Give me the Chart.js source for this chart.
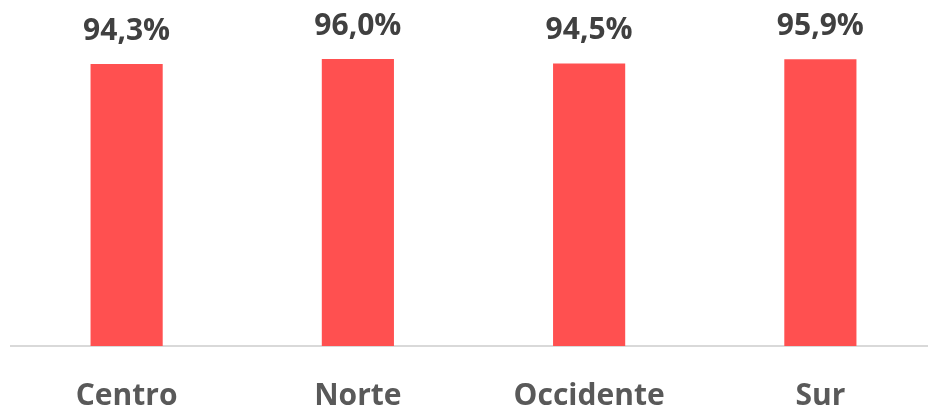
<!DOCTYPE html>
<html>
<head>
<meta charset="utf-8">
<script src="https://cdn.jsdelivr.net/npm/chart.js@4/dist/chart.umd.min.js"></script>
<style>
    html, body { margin: 0; padding: 0; background: #fff; overflow: hidden; }
    #wrap { width: 936px; height: 405px; }
</style>
</head>
<body>
<div id="wrap"><canvas id="barChart"></canvas></div>
<script>
// dati
const regioni = ["Centro", "Norte", "Occidente", "Sur"];
const valori = [94.3, 96.0, 94.5, 95.9];

// etichette sopra le barre
const etichettePlugin = {
    id: "etichette",
    afterDatasetsDraw(chart) {
        let ctx = chart.ctx;
        let meta = chart.getDatasetMeta(0);
        ctx.save();
        ctx.font = "bold 30px 'Open Sans'";
        ctx.fillStyle = "#404040";
        ctx.textAlign = "center";
        ctx.textBaseline = "middle";
        meta.data.forEach((bar, i) => {
            let testo = valori[i].toFixed(1).replace(".", ",") + "%";
            ctx.fillText(testo, bar.x, bar.y - 33);
        });
        ctx.restore();
    }
};

let ctx = document.getElementById("barChart").getContext("2d");
new Chart(ctx, {
    type: "bar",
    data: {
        labels: regioni,
        datasets: [{
            data: valori,
            backgroundColor: "#FF5050",
            borderWidth: 0,
            barPercentage: 1,
            categoryPercentage: 0.312
        }]
    },
    options: {
        responsive: true,
        maintainAspectRatio: false,
        animation: false,
        layout: { padding: { left: 11, right: 0, top: 47, bottom: -33 } },
        plugins: {
            legend: { display: false },
            tooltip: { enabled: false }
        },
        scales: {
            y: { display: false, min: 0, max: 100 },
            x: {
                grid: { display: false },
                border: { display: true, color: "#d9d9d9", width: 2 },
                ticks: {
                    color: "#595959",
                    padding: 24,
                    font: { family: "'Open Sans'", size: 30, weight: "bold" }
                }
            }
        }
    },
    plugins: [etichettePlugin]
});
</script>
</body>
</html>
